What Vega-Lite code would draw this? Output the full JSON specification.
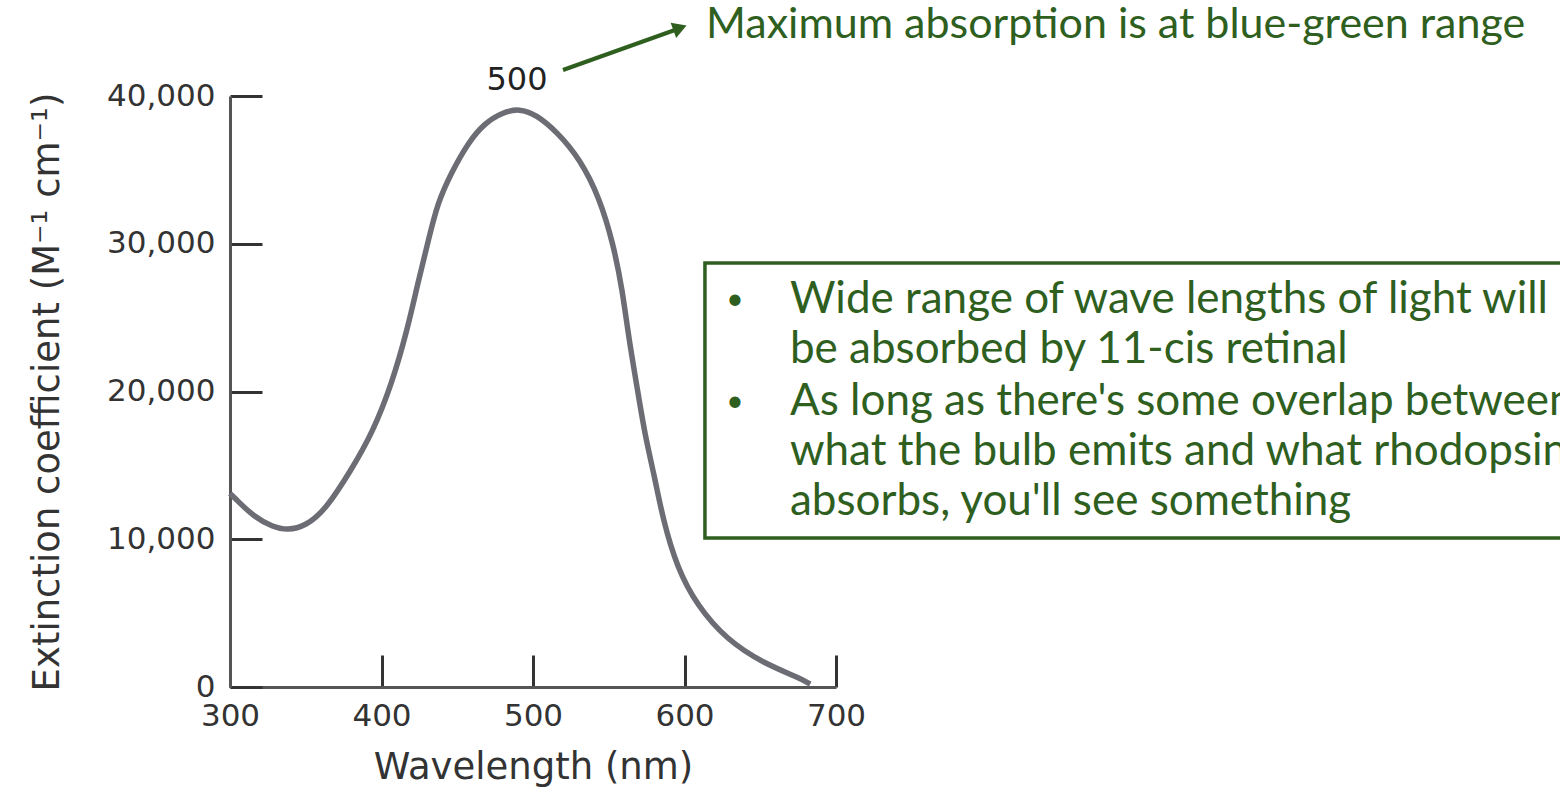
{
  "$schema": "https://vega.github.io/schema/vega-lite/v6.json",
  "width": 606,
  "height": 591,
  "autosize": {"type": "none"},
  "padding": {"left": 230, "top": 96, "right": 724, "bottom": 115},
  "background": "white",
  "config": {"view": {"stroke": null}},
  "datasets": {
    "curve": [
      {"wl": 300, "ext": 13100}, {"wl": 303, "ext": 12800}, {"wl": 316, "ext": 11500},
      {"wl": 328, "ext": 10850}, {"wl": 338, "ext": 10600}, {"wl": 350, "ext": 10900},
      {"wl": 363, "ext": 11980}, {"wl": 380, "ext": 14690}, {"wl": 394, "ext": 17190},
      {"wl": 407, "ext": 20575}, {"wl": 417, "ext": 24160}, {"wl": 424, "ext": 27340},
      {"wl": 431, "ext": 30250}, {"wl": 437, "ext": 32760}, {"wl": 446, "ext": 34790},
      {"wl": 457, "ext": 36820}, {"wl": 468, "ext": 38170}, {"wl": 480, "ext": 38900},
      {"wl": 491, "ext": 39150}, {"wl": 502, "ext": 38750}, {"wl": 516, "ext": 37560},
      {"wl": 531, "ext": 35740}, {"wl": 544, "ext": 33100}, {"wl": 553, "ext": 29980},
      {"wl": 559, "ext": 26870}, {"wl": 563, "ext": 23760}, {"wl": 569, "ext": 20100},
      {"wl": 574, "ext": 16990}, {"wl": 580, "ext": 14350}, {"wl": 586, "ext": 11240},
      {"wl": 595, "ext": 8120}, {"wl": 608, "ext": 5550}, {"wl": 628, "ext": 3180},
      {"wl": 652, "ext": 1620}, {"wl": 676, "ext": 610}, {"wl": 683, "ext": 200}
    ],
    "peak": [{"wl": 489.4, "ext": 41083, "label": "500"}],
    "arrow": [{"wl": 519.8, "ext": 41760}, {"wl": 593.7, "ext": 44467}],
    "head": [{"wl": 597.0, "ext": 44602}],
    "headline": [{"wl": 614.2, "ext": 44800, "label": "Maximum absorption is at blue-green range"}],
    "box": [{"wl": 613.5, "wl2": 1204, "ext": 28697, "ext2": 10085}],
    "bullets": [{"wl": 633.3, "ext": 26193, "label": "•"}, {"wl": 633.3, "ext": 19289, "label": "•"}],
    "lines": [
      {"wl": 669.6, "ext": 26193, "label": "Wide range of wave lengths of light will"},
      {"wl": 669.6, "ext": 22809, "label": "be absorbed by 11-cis retinal"},
      {"wl": 669.6, "ext": 19289, "label": "As long as there's some overlap between"},
      {"wl": 669.6, "ext": 15905, "label": "what the bulb emits and what rhodopsin"},
      {"wl": 669.6, "ext": 12521, "label": "absorbs, you'll see something"}
    ]
  },
  "encoding": {
    "x": {
      "field": "wl", "type": "quantitative",
      "scale": {"domain": [300, 700], "nice": false, "zero": false},
      "axis": {
        "title": "Wavelength (nm)", "values": [300, 400, 500, 600, 700], "format": "d",
        "grid": false, "domainColor": "#555555", "domainWidth": 3,
        "tickSize": -32, "tickColor": "#333333", "tickWidth": 3,
        "labelFont": "DejaVu Sans", "labelFontSize": 31, "labelColor": "#333333",
        "labelPadding": 46, "labelFlush": false, "labelOverlap": false,
        "titleFont": "DejaVu Sans", "titleFontSize": 37, "titleFontWeight": "normal",
        "titleColor": "#333333", "titlePadding": 18
      }
    },
    "y": {
      "field": "ext", "type": "quantitative",
      "scale": {"domain": [0, 40000], "nice": false},
      "axis": {
        "title": "Extinction coefficient (M⁻¹ cm⁻¹)", "values": [0, 10000, 20000, 30000, 40000], "format": ",d",
        "grid": false, "domainColor": "#555555", "domainWidth": 3,
        "tickSize": -32, "tickColor": "#333333", "tickWidth": 3,
        "labelFont": "DejaVu Sans", "labelFontSize": 31, "labelColor": "#333333",
        "labelPadding": 47, "labelFlush": false, "labelOverlap": false,
        "titleFont": "DejaVu Sans", "titleFontSize": 37, "titleFontWeight": "normal",
        "titleColor": "#333333", "titlePadding": 40
      }
    }
  },
  "layer": [
    {"data": {"name": "curve"}, "mark": {"type": "line", "color": "#6c6c74", "strokeWidth": 5.5, "interpolate": "basis"}},
    {"data": {"name": "peak"}, "mark": {"type": "text", "font": "DejaVu Sans", "fontSize": 32, "color": "#222222", "align": "center", "baseline": "middle"}, "encoding": {"text": {"field": "label"}}},
    {"data": {"name": "arrow"}, "mark": {"type": "line", "color": "#2f5f1f", "strokeWidth": 4}},
    {"data": {"name": "head"}, "mark": {"type": "point", "shape": "triangle-right", "angle": 340, "size": 260, "filled": true, "color": "#2f5f1f", "opacity": 1}},
    {"data": {"name": "headline"}, "mark": {"type": "text", "font": "Lato", "fontSize": 43, "color": "#2f5f1f", "align": "left", "baseline": "middle"}, "encoding": {"text": {"field": "label"}}},
    {"data": {"name": "box"}, "mark": {"type": "rect", "fillOpacity": 0, "stroke": "#2f5f1f", "strokeWidth": 3.5}, "encoding": {"x2": {"field": "wl2"}, "y2": {"field": "ext2"}}},
    {"data": {"name": "bullets"}, "mark": {"type": "text", "font": "Lato", "fontSize": 30, "color": "#2f5f1f", "align": "center", "baseline": "middle"}, "encoding": {"text": {"field": "label"}}},
    {"data": {"name": "lines"}, "mark": {"type": "text", "font": "Lato", "fontSize": 44, "color": "#2f5f1f", "align": "left", "baseline": "middle"}, "encoding": {"text": {"field": "label"}}}
  ]
}
